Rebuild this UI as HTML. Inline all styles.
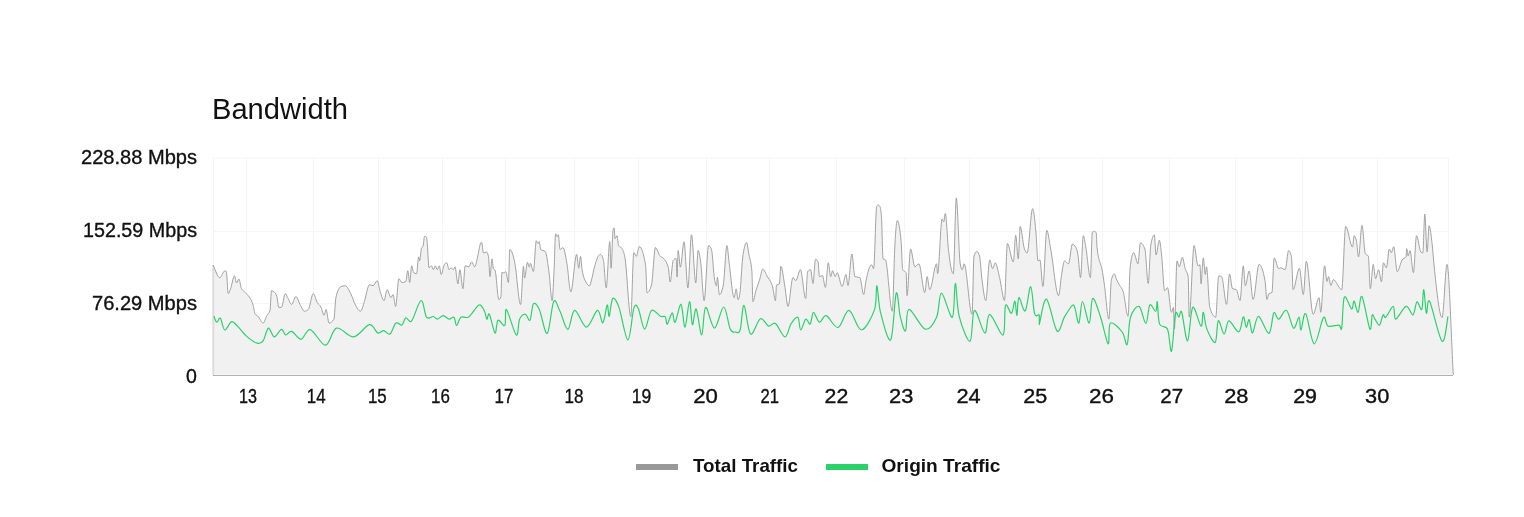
<!DOCTYPE html>
<html><head><meta charset="utf-8"><style>
html,body{margin:0;padding:0;background:#fff;width:1524px;height:517px;overflow:hidden}
svg{display:block;font-family:"Liberation Sans",sans-serif;will-change:transform}
</style></head><body>
<svg width="1524" height="517" viewBox="0 0 1524 517">
<text x="212" y="119" font-size="29" fill="#111" textLength="136" lengthAdjust="spacingAndGlyphs">Bandwidth</text>
<g font-size="19.6" fill="#111" stroke="#111" stroke-width="0.35" text-anchor="end">
<text x="197" y="164" textLength="116" lengthAdjust="spacingAndGlyphs">228.88 Mbps</text>
<text x="197" y="237" textLength="114" lengthAdjust="spacingAndGlyphs">152.59 Mbps</text>
<text x="197" y="310" textLength="105" lengthAdjust="spacingAndGlyphs">76.29 Mbps</text>
<text x="197" y="383">0</text>
</g>
<g stroke="#f5f5f5" stroke-width="1" fill="none"><line x1="246.5" y1="157.5" x2="246.5" y2="375" /><line x1="313.5" y1="157.5" x2="313.5" y2="375" /><line x1="378.5" y1="157.5" x2="378.5" y2="375" /><line x1="442.5" y1="157.5" x2="442.5" y2="375" /><line x1="505.5" y1="157.5" x2="505.5" y2="375" /><line x1="574.5" y1="157.5" x2="574.5" y2="375" /><line x1="638.5" y1="157.5" x2="638.5" y2="375" /><line x1="706.5" y1="157.5" x2="706.5" y2="375" /><line x1="769.5" y1="157.5" x2="769.5" y2="375" /><line x1="836.5" y1="157.5" x2="836.5" y2="375" /><line x1="904.5" y1="157.5" x2="904.5" y2="375" /><line x1="969.5" y1="157.5" x2="969.5" y2="375" /><line x1="1039.5" y1="157.5" x2="1039.5" y2="375" /><line x1="1102.5" y1="157.5" x2="1102.5" y2="375" /><line x1="1169.5" y1="157.5" x2="1169.5" y2="375" /><line x1="1235.5" y1="157.5" x2="1235.5" y2="375" /><line x1="1302.5" y1="157.5" x2="1302.5" y2="375" /><line x1="1377.5" y1="157.5" x2="1377.5" y2="375" /><line x1="213" y1="158.0" x2="1449" y2="158.0" /><line x1="213" y1="231.5" x2="1449" y2="231.5" /><line x1="213" y1="303.5" x2="1449" y2="303.5" /><line x1="213.5" y1="157.5" x2="213.5" y2="375" /><line x1="1448.5" y1="157.5" x2="1448.5" y2="375" /></g>
<path d="M213.0,265.0 C215.27,269.27 217.53,277.80 219.8,277.8 C221.43,277.80 223.07,271.00 224.7,271.0 C225.23,271.00 225.77,271.17 226.3,271.5 C226.93,271.90 227.57,293.60 228.2,293.6 C229.00,293.60 229.80,290.72 230.6,288.7 C231.90,285.42 233.20,275.80 234.5,275.8 C235.17,275.80 235.83,283.00 236.5,283.0 C237.30,283.00 238.10,279.00 238.9,279.0 C239.73,279.00 240.57,286.79 241.4,288.5 C242.73,291.23 244.07,290.95 245.4,292.6 C248.00,295.81 250.60,296.87 253.2,305.4 C253.87,307.59 254.53,313.38 255.2,314.3 C256.17,315.63 257.13,315.40 258.1,316.3 C259.77,317.86 261.43,323.10 263.1,323.1 C264.40,323.10 265.70,317.63 267.0,315.3 C268.00,313.51 269.00,313.67 270.0,310.4 C270.50,308.77 271.00,290.70 271.5,290.7 C272.30,290.70 273.10,291.03 273.9,291.7 C274.90,292.53 275.90,293.33 276.9,296.6 C277.53,298.67 278.17,307.40 278.8,307.4 C279.67,307.40 280.53,307.40 281.4,307.4 C282.70,307.40 284.00,293.60 285.3,293.6 C286.10,293.60 286.90,296.24 287.7,297.6 C289.00,299.80 290.30,304.40 291.6,304.4 C293.03,304.40 294.47,296.60 295.9,296.6 C297.43,296.60 298.97,302.80 300.5,305.4 C301.80,307.61 303.10,311.30 304.4,311.3 C305.70,311.30 307.00,310.67 308.3,309.4 C309.97,307.78 311.63,293.60 313.3,293.6 C314.60,293.60 315.90,300.20 317.2,302.5 C318.50,304.80 319.80,304.75 321.1,307.4 C322.10,309.43 323.10,315.30 324.1,315.3 C324.77,315.30 325.43,309.40 326.1,309.4 C327.07,309.40 328.03,323.10 329.0,323.1 C330.63,323.10 332.27,321.80 333.9,319.2 C334.57,318.14 335.23,300.57 335.9,297.6 C337.53,290.33 339.17,287.44 340.8,286.7 C342.27,286.03 343.73,285.70 345.2,285.7 C347.03,285.70 348.87,290.02 350.7,293.6 C352.33,296.79 353.97,302.45 355.6,305.4 C357.23,308.35 358.87,311.30 360.5,311.3 C361.80,311.30 363.10,305.24 364.4,301.5 C366.07,296.71 367.73,284.80 369.4,284.8 C370.70,284.80 372.00,285.70 373.3,285.7 C374.60,285.70 375.90,280.60 377.2,280.6 C378.20,280.60 379.20,288.63 380.2,291.7 C381.50,295.69 382.80,300.50 384.1,300.5 C385.10,300.50 386.10,289.70 387.1,289.7 C388.40,289.70 389.70,297.60 391.0,297.6 C391.67,297.60 392.33,294.60 393.0,294.6 C393.87,294.60 394.73,306.40 395.6,306.4 C396.70,306.40 397.80,278.70 398.9,278.7 C399.90,278.70 400.90,282.50 401.9,282.5 C403.20,282.50 404.50,282.17 405.8,281.5 C406.47,281.16 407.13,270.70 407.8,270.7 C408.43,270.70 409.07,282.50 409.7,282.5 C410.37,282.50 411.03,265.80 411.7,265.8 C412.37,265.80 413.03,272.24 413.7,272.7 C414.67,273.37 415.63,273.70 416.6,273.7 C417.27,273.70 417.93,256.90 418.6,256.9 C418.93,256.90 419.27,260.90 419.6,260.9 C420.23,260.90 420.87,249.68 421.5,248.1 C422.03,246.77 422.57,247.43 423.1,246.1 C423.57,244.93 424.03,236.30 424.5,236.3 C425.17,236.30 425.83,236.60 426.5,237.2 C426.80,237.47 427.10,241.88 427.4,245.1 C427.93,250.82 428.47,267.80 429.0,267.8 C429.80,267.80 430.60,265.80 431.4,265.8 C432.07,265.80 432.73,269.70 433.4,269.7 C434.03,269.70 434.67,265.80 435.3,265.8 C435.97,265.80 436.63,269.70 437.3,269.7 C437.97,269.70 438.63,265.80 439.3,265.8 C439.93,265.80 440.57,274.60 441.2,274.6 C442.20,274.60 443.20,266.40 444.2,264.8 C445.03,263.47 445.87,262.80 446.7,262.8 C447.50,262.80 448.30,269.70 449.1,269.7 C449.77,269.70 450.43,267.80 451.1,267.8 C451.87,267.80 452.63,269.70 453.4,269.7 C453.93,269.70 454.47,266.80 455.0,266.8 C455.97,266.80 456.93,283.80 457.9,283.8 C458.57,283.80 459.23,269.70 459.9,269.7 C460.90,269.70 461.90,288.70 462.9,288.7 C463.67,288.70 464.43,265.80 465.2,265.8 C466.40,265.80 467.60,266.80 468.8,266.8 C469.77,266.80 470.73,261.90 471.7,261.9 C472.70,261.90 473.70,266.80 474.7,266.8 C475.67,266.80 476.63,260.76 477.6,256.9 C478.60,252.90 479.60,244.90 480.6,243.1 C480.93,242.50 481.27,242.20 481.6,242.2 C482.23,242.20 482.87,253.00 483.5,253.0 C484.50,253.00 485.50,252.00 486.5,252.0 C487.17,252.00 487.83,253.63 488.5,256.9 C489.00,259.35 489.50,276.60 490.0,276.6 C490.67,276.60 491.33,258.90 492.0,258.9 C492.47,258.90 492.93,267.82 493.4,268.7 C493.93,269.70 494.47,269.20 495.0,270.2 C496.30,272.64 497.60,299.70 498.9,299.7 C499.57,299.70 500.23,298.73 500.9,296.8 C501.23,295.83 501.57,272.20 501.9,272.2 C502.57,272.20 503.23,273.10 503.9,273.1 C504.53,273.10 505.17,271.60 505.8,271.6 C506.67,271.60 507.53,282.60 508.4,282.6 C508.87,282.60 509.33,249.50 509.8,249.5 C511.43,249.50 513.07,254.66 514.7,262.3 C516.67,271.50 518.63,304.60 520.6,304.6 C521.57,304.60 522.53,266.30 523.5,266.3 C523.83,266.30 524.17,278.10 524.5,278.1 C525.50,278.10 526.50,262.30 527.5,262.3 C528.13,262.30 528.77,267.20 529.4,267.2 C529.73,267.20 530.07,263.30 530.4,263.3 C531.40,263.30 532.40,271.60 533.4,271.6 C534.37,271.60 535.33,240.70 536.3,240.7 C536.83,240.70 537.37,243.60 537.9,243.6 C538.37,243.60 538.83,241.70 539.3,241.7 C539.77,241.70 540.23,249.09 540.7,249.5 C542.20,250.83 543.70,250.17 545.2,251.5 C546.50,252.66 547.80,263.21 549.1,273.1 C550.10,280.71 551.10,300.70 552.1,300.7 C552.77,300.70 553.43,282.69 554.1,269.2 C554.60,259.08 555.10,233.80 555.6,233.8 C556.07,233.80 556.53,236.70 557.0,236.7 C557.47,236.70 557.93,234.80 558.4,234.8 C558.93,234.80 559.47,249.50 560.0,249.5 C560.97,249.50 561.93,247.60 562.9,247.6 C564.23,247.60 565.57,255.77 566.9,263.3 C568.20,270.65 569.50,291.90 570.8,291.9 C572.77,291.90 574.73,254.40 576.7,254.4 C577.37,254.40 578.03,268.20 578.7,268.2 C579.33,268.20 579.97,256.40 580.6,256.4 C581.07,256.40 581.53,266.34 582.0,269.2 C583.50,278.40 585.00,280.29 586.5,283.0 C587.50,284.81 588.50,285.90 589.5,285.9 C590.17,285.90 590.83,282.36 591.5,280.0 C592.47,276.57 593.43,270.75 594.4,267.2 C596.37,259.97 598.33,254.40 600.3,254.4 C601.30,254.40 602.30,256.07 603.3,259.4 C604.27,262.62 605.23,287.90 606.2,287.9 C607.40,287.90 608.60,241.70 609.8,241.7 C610.23,241.70 610.67,268.20 611.1,268.2 C611.77,268.20 612.43,232.33 613.1,229.8 C613.43,228.53 613.77,227.90 614.1,227.9 C614.43,227.90 614.77,238.70 615.1,238.7 C615.73,238.70 616.37,235.70 617.0,235.7 C617.53,235.70 618.07,244.69 618.6,245.6 C619.73,247.53 620.87,246.57 622.0,248.5 C622.97,250.15 623.93,252.22 624.9,257.4 C626.87,267.94 628.83,316.50 630.8,316.5 C631.80,316.50 632.80,252.50 633.8,252.5 C634.63,252.50 635.47,256.40 636.3,256.4 C637.30,256.40 638.30,246.60 639.3,246.6 C641.40,246.60 643.50,252.83 645.6,265.3 C646.07,268.07 646.53,292.80 647.0,292.8 C648.50,292.80 650.00,290.20 651.5,285.0 C652.80,280.49 654.10,247.60 655.4,247.6 C657.07,247.60 658.73,254.96 660.4,256.4 C661.03,256.95 661.67,256.89 662.3,257.4 C664.27,258.98 666.23,260.67 668.2,267.2 C668.87,269.41 669.53,282.00 670.2,282.0 C671.20,282.00 672.20,261.78 673.2,260.4 C674.17,259.07 675.13,258.40 676.1,258.4 C676.43,258.40 676.77,277.10 677.1,277.1 C677.43,277.10 677.77,250.50 678.1,250.5 C678.87,250.50 679.63,267.20 680.4,267.2 C681.60,267.20 682.80,241.70 684.0,241.7 C685.30,241.70 686.60,287.90 687.9,287.9 C689.10,287.90 690.30,234.80 691.5,234.8 C692.93,234.80 694.37,283.00 695.8,283.0 C696.57,283.00 697.33,250.50 698.1,250.5 C698.97,250.50 699.83,255.83 700.7,262.3 C701.83,270.76 702.97,300.70 704.1,300.7 C705.60,300.70 707.10,245.60 708.6,245.6 C709.57,245.60 710.53,246.90 711.5,249.5 C712.50,252.19 713.50,273.11 714.5,279.1 C715.17,283.09 715.83,285.90 716.5,285.9 C716.80,285.90 717.10,277.10 717.4,277.1 C718.07,277.10 718.73,294.80 719.4,294.8 C720.70,294.80 722.00,291.53 723.3,285.0 C724.50,278.97 725.70,245.60 726.9,245.6 C727.70,245.60 728.50,258.32 729.3,264.3 C730.93,276.51 732.57,297.80 734.2,297.8 C734.83,297.80 735.47,288.90 736.1,288.9 C736.77,288.90 737.43,299.70 738.1,299.7 C738.73,299.70 739.37,297.40 740.0,292.8 C740.87,286.51 741.73,265.25 742.6,258.4 C743.93,247.87 745.27,242.60 746.6,242.6 C747.37,242.60 748.13,250.31 748.9,254.4 C749.90,259.73 750.90,260.00 751.9,271.2 C752.23,274.93 752.57,301.70 752.9,301.7 C753.87,301.70 754.83,294.19 755.8,290.9 C757.13,286.37 758.47,283.39 759.8,279.1 C760.77,275.99 761.73,269.20 762.7,269.2 C764.33,269.20 765.97,274.19 767.6,277.1 C769.27,280.07 770.93,280.68 772.6,286.9 C773.57,290.51 774.53,300.70 775.5,300.7 C775.83,300.70 776.17,285.23 776.5,285.0 C777.47,284.33 778.43,284.67 779.4,284.0 C779.87,283.68 780.33,266.30 780.8,266.3 C782.20,266.30 783.60,279.30 785.0,287.4 C786.00,293.19 787.00,306.40 788.0,306.4 C789.63,306.40 791.27,277.60 792.9,277.6 C793.87,277.60 794.83,280.60 795.8,280.6 C797.33,280.60 798.87,269.70 800.4,269.7 C802.17,269.70 803.93,298.50 805.7,298.5 C806.33,298.50 806.97,272.54 807.6,271.7 C808.60,270.37 809.60,269.70 810.6,269.7 C811.40,269.70 812.20,283.50 813.0,283.5 C813.83,283.50 814.67,259.30 815.5,259.3 C816.37,259.30 817.23,260.17 818.1,261.9 C818.53,262.77 818.97,276.60 819.4,276.6 C820.40,276.60 821.40,275.60 822.4,275.6 C823.40,275.60 824.40,287.40 825.4,287.4 C826.37,287.40 827.33,262.80 828.3,262.8 C829.10,262.80 829.90,276.60 830.7,276.6 C831.33,276.60 831.97,270.70 832.6,270.7 C833.47,270.70 834.33,276.60 835.2,276.6 C835.87,276.60 836.53,272.70 837.2,272.7 C838.83,272.70 840.47,286.50 842.1,286.5 C843.40,286.50 844.70,274.60 846.0,274.6 C846.67,274.60 847.33,285.50 848.0,285.5 C849.30,285.50 850.60,254.00 851.9,254.0 C852.90,254.00 853.90,276.19 854.9,276.6 C856.53,277.27 858.17,276.93 859.8,277.6 C861.10,278.13 862.40,294.60 863.7,294.6 C864.37,294.60 865.03,286.02 865.7,282.5 C867.67,272.12 869.63,264.80 871.6,264.8 C872.27,264.80 872.93,268.70 873.6,268.7 C874.63,268.70 875.67,208.44 876.7,206.5 C877.23,205.50 877.77,205.00 878.3,205.0 C878.83,205.00 879.37,205.50 879.9,206.5 C880.43,207.50 880.97,210.20 881.5,217.6 C882.00,224.54 882.50,258.48 883.0,258.9 C883.80,259.57 884.60,259.23 885.4,259.9 C887.70,261.82 890.00,311.30 892.3,311.3 C893.13,311.30 893.97,262.29 894.8,247.1 C895.60,232.51 896.40,220.50 897.2,220.5 C898.50,220.50 899.80,227.40 901.1,241.2 C901.63,246.86 902.17,268.76 902.7,269.7 C903.83,271.70 904.97,270.70 906.1,272.7 C906.40,273.23 906.70,295.60 907.0,295.6 C908.20,295.60 909.40,249.10 910.6,249.1 C912.03,249.10 913.47,266.80 914.9,266.8 C916.23,266.80 917.57,263.80 918.9,263.8 C920.87,263.80 922.83,292.60 924.8,292.6 C925.57,292.60 926.33,276.60 927.1,276.6 C927.97,276.60 928.83,289.70 929.7,289.7 C932.00,289.70 934.30,263.80 936.6,263.8 C936.93,263.80 937.27,273.70 937.6,273.7 C939.10,273.70 940.60,219.00 942.1,219.0 C942.63,219.00 943.17,222.00 943.7,222.0 C944.23,222.00 944.77,213.50 945.3,213.5 C946.33,213.50 947.37,239.82 948.4,249.1 C950.03,263.77 951.67,273.70 953.3,273.7 C954.30,273.70 955.30,197.90 956.3,197.9 C957.60,197.90 958.90,256.13 960.2,263.8 C960.87,267.73 961.53,269.70 962.2,269.7 C962.83,269.70 963.47,263.80 964.1,263.8 C966.73,263.80 969.37,314.30 972.0,314.3 C972.67,314.30 973.33,258.07 974.0,256.0 C974.97,253.00 975.93,251.50 976.9,251.5 C977.77,251.50 978.63,253.00 979.5,256.0 C980.30,258.77 981.10,272.23 981.9,278.6 C983.20,288.96 984.50,300.50 985.8,300.5 C987.10,300.50 988.40,259.90 989.7,259.9 C990.70,259.90 991.70,268.70 992.7,268.7 C993.53,268.70 994.37,262.80 995.2,262.8 C996.67,262.80 998.13,271.76 999.6,277.6 C1001.23,284.11 1002.87,300.50 1004.5,300.5 C1005.47,300.50 1006.43,243.50 1007.4,243.5 C1009.37,243.50 1011.33,261.90 1013.3,261.9 C1014.10,261.90 1014.90,235.30 1015.7,235.3 C1016.57,235.30 1017.43,258.90 1018.3,258.9 C1018.93,258.90 1019.57,226.40 1020.2,226.4 C1021.53,226.40 1022.87,243.75 1024.2,248.1 C1025.17,251.25 1026.13,253.00 1027.1,253.0 C1028.93,253.00 1030.77,208.70 1032.6,208.7 C1033.73,208.70 1034.87,220.42 1036.0,233.3 C1036.67,240.88 1037.33,260.90 1038.0,260.9 C1038.63,260.90 1039.27,259.90 1039.9,259.9 C1040.90,259.90 1041.90,286.50 1042.9,286.5 C1044.20,286.50 1045.50,230.40 1046.8,230.4 C1048.10,230.40 1049.40,242.40 1050.7,249.1 C1053.33,262.68 1055.97,295.60 1058.6,295.6 C1059.60,295.60 1060.60,280.44 1061.6,274.6 C1062.57,268.95 1063.53,260.90 1064.5,260.9 C1065.83,260.90 1067.17,263.80 1068.5,263.8 C1069.80,263.80 1071.10,244.10 1072.4,244.1 C1073.27,244.10 1074.13,244.77 1075.0,246.1 C1076.00,247.64 1077.00,249.07 1078.0,255.0 C1078.83,259.94 1079.67,277.60 1080.5,277.6 C1081.43,277.60 1082.37,235.70 1083.3,235.7 C1084.13,235.70 1084.97,242.69 1085.8,247.1 C1087.33,255.21 1088.87,277.60 1090.4,277.6 C1091.03,277.60 1091.67,232.83 1092.3,232.3 C1093.10,231.63 1093.90,231.30 1094.7,231.3 C1095.23,231.30 1095.77,231.97 1096.3,233.3 C1096.53,233.88 1096.77,244.97 1097.0,247.1 C1098.87,264.17 1100.73,261.00 1102.6,272.7 C1103.23,276.67 1103.87,281.22 1104.5,285.7 C1105.97,296.08 1107.43,319.20 1108.9,319.2 C1109.73,319.20 1110.57,283.08 1111.4,279.8 C1112.40,275.87 1113.40,273.90 1114.4,273.9 C1115.03,273.90 1115.67,277.40 1116.3,278.9 C1117.30,281.27 1118.30,282.92 1119.3,284.8 C1120.60,287.25 1121.90,287.53 1123.2,291.7 C1124.83,296.94 1126.47,316.30 1128.1,316.3 C1128.77,316.30 1129.43,273.43 1130.1,267.8 C1131.30,257.67 1132.50,252.60 1133.7,252.6 C1135.13,252.60 1136.57,263.80 1138.0,263.8 C1138.80,263.80 1139.60,242.80 1140.4,242.8 C1141.90,242.80 1143.40,244.90 1144.9,249.1 C1146.00,252.18 1147.10,283.50 1148.2,283.5 C1149.07,283.50 1149.93,250.15 1150.8,245.1 C1151.97,238.30 1153.13,234.90 1154.3,234.9 C1154.90,234.90 1155.50,255.00 1156.1,255.0 C1157.17,255.00 1158.23,240.20 1159.3,240.2 C1160.07,240.20 1160.83,248.25 1161.6,255.0 C1162.60,263.81 1163.60,290.70 1164.6,290.7 C1165.57,290.70 1166.53,287.70 1167.5,287.7 C1168.83,287.70 1170.17,312.30 1171.5,312.3 C1172.13,312.30 1172.77,307.40 1173.4,307.4 C1173.73,307.40 1174.07,329.00 1174.4,329.0 C1175.27,329.00 1176.13,260.90 1177.0,260.9 C1177.77,260.90 1178.53,266.80 1179.3,266.8 C1180.30,266.80 1181.30,257.30 1182.3,257.3 C1183.27,257.30 1184.23,265.45 1185.2,268.7 C1186.20,272.06 1187.20,271.47 1188.2,277.0 C1188.53,278.84 1188.87,317.20 1189.2,317.2 C1190.83,317.20 1192.47,245.50 1194.1,245.5 C1195.40,245.50 1196.70,265.80 1198.0,265.8 C1198.67,265.80 1199.33,264.80 1200.0,264.8 C1200.33,264.80 1200.67,283.80 1201.0,283.8 C1201.77,283.80 1202.53,257.90 1203.3,257.9 C1203.97,257.90 1204.63,274.60 1205.3,274.6 C1205.70,274.60 1206.10,266.80 1206.5,266.8 C1207.60,266.80 1208.70,303.75 1209.8,307.4 C1211.77,313.93 1213.73,317.20 1215.7,317.2 C1216.70,317.20 1217.70,275.90 1218.7,275.9 C1219.70,275.90 1220.70,276.23 1221.7,276.9 C1223.33,277.99 1224.97,304.40 1226.6,304.4 C1227.57,304.40 1228.53,273.90 1229.5,273.9 C1230.50,273.90 1231.50,288.19 1232.5,288.7 C1233.80,289.37 1235.10,289.03 1236.4,289.7 C1237.60,290.32 1238.80,300.50 1240.0,300.5 C1241.10,300.50 1242.20,265.80 1243.3,265.8 C1243.97,265.80 1244.63,285.70 1245.3,285.7 C1246.60,285.70 1247.90,271.00 1249.2,271.0 C1250.50,271.00 1251.80,299.50 1253.1,299.5 C1255.10,299.50 1257.10,264.40 1259.1,264.4 C1261.07,264.40 1263.03,269.80 1265.0,280.6 C1265.63,284.08 1266.27,299.50 1266.9,299.5 C1267.57,299.50 1268.23,294.04 1268.9,293.6 C1269.90,292.93 1270.90,293.27 1271.9,292.6 C1272.67,292.09 1273.43,257.90 1274.2,257.9 C1275.70,257.90 1277.20,268.70 1278.7,268.7 C1279.37,268.70 1280.03,267.80 1280.7,267.8 C1282.20,267.80 1283.70,269.70 1285.2,269.7 C1286.33,269.70 1287.47,250.60 1288.6,250.6 C1289.57,250.60 1290.53,252.70 1291.5,256.9 C1292.03,259.22 1292.57,289.70 1293.1,289.7 C1295.20,289.70 1297.30,268.30 1299.4,268.3 C1300.70,268.30 1302.00,294.60 1303.3,294.6 C1304.30,294.60 1305.30,261.30 1306.3,261.3 C1308.60,261.30 1310.90,314.30 1313.2,314.3 C1315.17,314.30 1317.13,297.60 1319.1,297.6 C1319.63,297.60 1320.17,312.30 1320.7,312.3 C1322.00,312.30 1323.30,265.80 1324.6,265.8 C1325.40,265.80 1326.20,281.50 1327.0,281.5 C1327.50,281.50 1328.00,276.60 1328.5,276.6 C1329.30,276.60 1330.10,285.50 1330.9,285.5 C1331.70,285.50 1332.50,279.60 1333.3,279.6 C1336.10,279.60 1338.90,289.70 1341.7,289.7 C1343.03,289.70 1344.37,226.40 1345.7,226.4 C1348.00,226.40 1350.30,247.10 1352.6,247.1 C1353.10,247.10 1353.60,235.70 1354.1,235.7 C1354.90,235.70 1355.70,237.53 1356.5,241.2 C1357.17,244.26 1357.83,256.90 1358.5,256.9 C1359.67,256.90 1360.83,225.40 1362.0,225.4 C1363.13,225.40 1364.27,252.51 1365.4,254.0 C1366.37,255.27 1367.33,254.63 1368.3,255.9 C1368.97,256.77 1369.63,288.70 1370.3,288.7 C1371.27,288.70 1372.23,264.40 1373.2,264.4 C1374.00,264.40 1374.80,278.60 1375.6,278.6 C1376.57,278.60 1377.53,269.70 1378.5,269.7 C1379.50,269.70 1380.50,281.80 1381.5,281.8 C1382.13,281.80 1382.77,262.80 1383.4,262.8 C1384.40,262.80 1385.40,267.80 1386.4,267.8 C1387.37,267.80 1388.33,249.10 1389.3,249.1 C1389.97,249.10 1390.63,252.60 1391.3,252.6 C1392.10,252.60 1392.90,246.70 1393.7,246.7 C1394.87,246.70 1396.03,271.70 1397.2,271.7 C1398.83,271.70 1400.47,262.43 1402.1,259.9 C1403.43,257.83 1404.77,258.77 1406.1,256.5 C1406.30,256.16 1406.50,248.70 1406.7,248.7 C1407.17,248.70 1407.63,255.90 1408.1,255.9 C1408.73,255.90 1409.37,250.60 1410.0,250.6 C1411.13,250.60 1412.27,272.70 1413.4,272.7 C1414.43,272.70 1415.47,235.70 1416.5,235.7 C1417.97,235.70 1419.43,250.46 1420.9,252.0 C1421.53,252.67 1422.17,253.00 1422.8,253.0 C1423.47,253.00 1424.13,214.00 1424.8,214.0 C1425.57,214.00 1426.33,252.00 1427.1,252.0 C1427.77,252.00 1428.43,225.80 1429.1,225.8 C1429.97,225.80 1430.83,233.36 1431.7,240.2 C1432.67,247.83 1433.63,261.68 1434.6,270.7 C1437.10,294.02 1439.60,317.60 1442.1,317.6 C1443.73,317.60 1445.37,264.40 1447.0,264.4 C1449.10,264.40 1451.20,338.13 1453.3,375.0 L1453.3,375 L213,375 Z" fill="#f1f1f1" stroke="none"/>
<line x1="213.3" y1="265" x2="213.3" y2="375" stroke="#dcdcdc" stroke-width="2"/>
<path d="M213.0,265.0 C215.27,269.27 217.53,277.80 219.8,277.8 C221.43,277.80 223.07,271.00 224.7,271.0 C225.23,271.00 225.77,271.17 226.3,271.5 C226.93,271.90 227.57,293.60 228.2,293.6 C229.00,293.60 229.80,290.72 230.6,288.7 C231.90,285.42 233.20,275.80 234.5,275.8 C235.17,275.80 235.83,283.00 236.5,283.0 C237.30,283.00 238.10,279.00 238.9,279.0 C239.73,279.00 240.57,286.79 241.4,288.5 C242.73,291.23 244.07,290.95 245.4,292.6 C248.00,295.81 250.60,296.87 253.2,305.4 C253.87,307.59 254.53,313.38 255.2,314.3 C256.17,315.63 257.13,315.40 258.1,316.3 C259.77,317.86 261.43,323.10 263.1,323.1 C264.40,323.10 265.70,317.63 267.0,315.3 C268.00,313.51 269.00,313.67 270.0,310.4 C270.50,308.77 271.00,290.70 271.5,290.7 C272.30,290.70 273.10,291.03 273.9,291.7 C274.90,292.53 275.90,293.33 276.9,296.6 C277.53,298.67 278.17,307.40 278.8,307.4 C279.67,307.40 280.53,307.40 281.4,307.4 C282.70,307.40 284.00,293.60 285.3,293.6 C286.10,293.60 286.90,296.24 287.7,297.6 C289.00,299.80 290.30,304.40 291.6,304.4 C293.03,304.40 294.47,296.60 295.9,296.6 C297.43,296.60 298.97,302.80 300.5,305.4 C301.80,307.61 303.10,311.30 304.4,311.3 C305.70,311.30 307.00,310.67 308.3,309.4 C309.97,307.78 311.63,293.60 313.3,293.6 C314.60,293.60 315.90,300.20 317.2,302.5 C318.50,304.80 319.80,304.75 321.1,307.4 C322.10,309.43 323.10,315.30 324.1,315.3 C324.77,315.30 325.43,309.40 326.1,309.4 C327.07,309.40 328.03,323.10 329.0,323.1 C330.63,323.10 332.27,321.80 333.9,319.2 C334.57,318.14 335.23,300.57 335.9,297.6 C337.53,290.33 339.17,287.44 340.8,286.7 C342.27,286.03 343.73,285.70 345.2,285.7 C347.03,285.70 348.87,290.02 350.7,293.6 C352.33,296.79 353.97,302.45 355.6,305.4 C357.23,308.35 358.87,311.30 360.5,311.3 C361.80,311.30 363.10,305.24 364.4,301.5 C366.07,296.71 367.73,284.80 369.4,284.8 C370.70,284.80 372.00,285.70 373.3,285.7 C374.60,285.70 375.90,280.60 377.2,280.6 C378.20,280.60 379.20,288.63 380.2,291.7 C381.50,295.69 382.80,300.50 384.1,300.5 C385.10,300.50 386.10,289.70 387.1,289.7 C388.40,289.70 389.70,297.60 391.0,297.6 C391.67,297.60 392.33,294.60 393.0,294.6 C393.87,294.60 394.73,306.40 395.6,306.4 C396.70,306.40 397.80,278.70 398.9,278.7 C399.90,278.70 400.90,282.50 401.9,282.5 C403.20,282.50 404.50,282.17 405.8,281.5 C406.47,281.16 407.13,270.70 407.8,270.7 C408.43,270.70 409.07,282.50 409.7,282.5 C410.37,282.50 411.03,265.80 411.7,265.8 C412.37,265.80 413.03,272.24 413.7,272.7 C414.67,273.37 415.63,273.70 416.6,273.7 C417.27,273.70 417.93,256.90 418.6,256.9 C418.93,256.90 419.27,260.90 419.6,260.9 C420.23,260.90 420.87,249.68 421.5,248.1 C422.03,246.77 422.57,247.43 423.1,246.1 C423.57,244.93 424.03,236.30 424.5,236.3 C425.17,236.30 425.83,236.60 426.5,237.2 C426.80,237.47 427.10,241.88 427.4,245.1 C427.93,250.82 428.47,267.80 429.0,267.8 C429.80,267.80 430.60,265.80 431.4,265.8 C432.07,265.80 432.73,269.70 433.4,269.7 C434.03,269.70 434.67,265.80 435.3,265.8 C435.97,265.80 436.63,269.70 437.3,269.7 C437.97,269.70 438.63,265.80 439.3,265.8 C439.93,265.80 440.57,274.60 441.2,274.6 C442.20,274.60 443.20,266.40 444.2,264.8 C445.03,263.47 445.87,262.80 446.7,262.8 C447.50,262.80 448.30,269.70 449.1,269.7 C449.77,269.70 450.43,267.80 451.1,267.8 C451.87,267.80 452.63,269.70 453.4,269.7 C453.93,269.70 454.47,266.80 455.0,266.8 C455.97,266.80 456.93,283.80 457.9,283.8 C458.57,283.80 459.23,269.70 459.9,269.7 C460.90,269.70 461.90,288.70 462.9,288.7 C463.67,288.70 464.43,265.80 465.2,265.8 C466.40,265.80 467.60,266.80 468.8,266.8 C469.77,266.80 470.73,261.90 471.7,261.9 C472.70,261.90 473.70,266.80 474.7,266.8 C475.67,266.80 476.63,260.76 477.6,256.9 C478.60,252.90 479.60,244.90 480.6,243.1 C480.93,242.50 481.27,242.20 481.6,242.2 C482.23,242.20 482.87,253.00 483.5,253.0 C484.50,253.00 485.50,252.00 486.5,252.0 C487.17,252.00 487.83,253.63 488.5,256.9 C489.00,259.35 489.50,276.60 490.0,276.6 C490.67,276.60 491.33,258.90 492.0,258.9 C492.47,258.90 492.93,267.82 493.4,268.7 C493.93,269.70 494.47,269.20 495.0,270.2 C496.30,272.64 497.60,299.70 498.9,299.7 C499.57,299.70 500.23,298.73 500.9,296.8 C501.23,295.83 501.57,272.20 501.9,272.2 C502.57,272.20 503.23,273.10 503.9,273.1 C504.53,273.10 505.17,271.60 505.8,271.6 C506.67,271.60 507.53,282.60 508.4,282.6 C508.87,282.60 509.33,249.50 509.8,249.5 C511.43,249.50 513.07,254.66 514.7,262.3 C516.67,271.50 518.63,304.60 520.6,304.6 C521.57,304.60 522.53,266.30 523.5,266.3 C523.83,266.30 524.17,278.10 524.5,278.1 C525.50,278.10 526.50,262.30 527.5,262.3 C528.13,262.30 528.77,267.20 529.4,267.2 C529.73,267.20 530.07,263.30 530.4,263.3 C531.40,263.30 532.40,271.60 533.4,271.6 C534.37,271.60 535.33,240.70 536.3,240.7 C536.83,240.70 537.37,243.60 537.9,243.6 C538.37,243.60 538.83,241.70 539.3,241.7 C539.77,241.70 540.23,249.09 540.7,249.5 C542.20,250.83 543.70,250.17 545.2,251.5 C546.50,252.66 547.80,263.21 549.1,273.1 C550.10,280.71 551.10,300.70 552.1,300.7 C552.77,300.70 553.43,282.69 554.1,269.2 C554.60,259.08 555.10,233.80 555.6,233.8 C556.07,233.80 556.53,236.70 557.0,236.7 C557.47,236.70 557.93,234.80 558.4,234.8 C558.93,234.80 559.47,249.50 560.0,249.5 C560.97,249.50 561.93,247.60 562.9,247.6 C564.23,247.60 565.57,255.77 566.9,263.3 C568.20,270.65 569.50,291.90 570.8,291.9 C572.77,291.90 574.73,254.40 576.7,254.4 C577.37,254.40 578.03,268.20 578.7,268.2 C579.33,268.20 579.97,256.40 580.6,256.4 C581.07,256.40 581.53,266.34 582.0,269.2 C583.50,278.40 585.00,280.29 586.5,283.0 C587.50,284.81 588.50,285.90 589.5,285.9 C590.17,285.90 590.83,282.36 591.5,280.0 C592.47,276.57 593.43,270.75 594.4,267.2 C596.37,259.97 598.33,254.40 600.3,254.4 C601.30,254.40 602.30,256.07 603.3,259.4 C604.27,262.62 605.23,287.90 606.2,287.9 C607.40,287.90 608.60,241.70 609.8,241.7 C610.23,241.70 610.67,268.20 611.1,268.2 C611.77,268.20 612.43,232.33 613.1,229.8 C613.43,228.53 613.77,227.90 614.1,227.9 C614.43,227.90 614.77,238.70 615.1,238.7 C615.73,238.70 616.37,235.70 617.0,235.7 C617.53,235.70 618.07,244.69 618.6,245.6 C619.73,247.53 620.87,246.57 622.0,248.5 C622.97,250.15 623.93,252.22 624.9,257.4 C626.87,267.94 628.83,316.50 630.8,316.5 C631.80,316.50 632.80,252.50 633.8,252.5 C634.63,252.50 635.47,256.40 636.3,256.4 C637.30,256.40 638.30,246.60 639.3,246.6 C641.40,246.60 643.50,252.83 645.6,265.3 C646.07,268.07 646.53,292.80 647.0,292.8 C648.50,292.80 650.00,290.20 651.5,285.0 C652.80,280.49 654.10,247.60 655.4,247.6 C657.07,247.60 658.73,254.96 660.4,256.4 C661.03,256.95 661.67,256.89 662.3,257.4 C664.27,258.98 666.23,260.67 668.2,267.2 C668.87,269.41 669.53,282.00 670.2,282.0 C671.20,282.00 672.20,261.78 673.2,260.4 C674.17,259.07 675.13,258.40 676.1,258.4 C676.43,258.40 676.77,277.10 677.1,277.1 C677.43,277.10 677.77,250.50 678.1,250.5 C678.87,250.50 679.63,267.20 680.4,267.2 C681.60,267.20 682.80,241.70 684.0,241.7 C685.30,241.70 686.60,287.90 687.9,287.9 C689.10,287.90 690.30,234.80 691.5,234.8 C692.93,234.80 694.37,283.00 695.8,283.0 C696.57,283.00 697.33,250.50 698.1,250.5 C698.97,250.50 699.83,255.83 700.7,262.3 C701.83,270.76 702.97,300.70 704.1,300.7 C705.60,300.70 707.10,245.60 708.6,245.6 C709.57,245.60 710.53,246.90 711.5,249.5 C712.50,252.19 713.50,273.11 714.5,279.1 C715.17,283.09 715.83,285.90 716.5,285.9 C716.80,285.90 717.10,277.10 717.4,277.1 C718.07,277.10 718.73,294.80 719.4,294.8 C720.70,294.80 722.00,291.53 723.3,285.0 C724.50,278.97 725.70,245.60 726.9,245.6 C727.70,245.60 728.50,258.32 729.3,264.3 C730.93,276.51 732.57,297.80 734.2,297.8 C734.83,297.80 735.47,288.90 736.1,288.9 C736.77,288.90 737.43,299.70 738.1,299.7 C738.73,299.70 739.37,297.40 740.0,292.8 C740.87,286.51 741.73,265.25 742.6,258.4 C743.93,247.87 745.27,242.60 746.6,242.6 C747.37,242.60 748.13,250.31 748.9,254.4 C749.90,259.73 750.90,260.00 751.9,271.2 C752.23,274.93 752.57,301.70 752.9,301.7 C753.87,301.70 754.83,294.19 755.8,290.9 C757.13,286.37 758.47,283.39 759.8,279.1 C760.77,275.99 761.73,269.20 762.7,269.2 C764.33,269.20 765.97,274.19 767.6,277.1 C769.27,280.07 770.93,280.68 772.6,286.9 C773.57,290.51 774.53,300.70 775.5,300.7 C775.83,300.70 776.17,285.23 776.5,285.0 C777.47,284.33 778.43,284.67 779.4,284.0 C779.87,283.68 780.33,266.30 780.8,266.3 C782.20,266.30 783.60,279.30 785.0,287.4 C786.00,293.19 787.00,306.40 788.0,306.4 C789.63,306.40 791.27,277.60 792.9,277.6 C793.87,277.60 794.83,280.60 795.8,280.6 C797.33,280.60 798.87,269.70 800.4,269.7 C802.17,269.70 803.93,298.50 805.7,298.5 C806.33,298.50 806.97,272.54 807.6,271.7 C808.60,270.37 809.60,269.70 810.6,269.7 C811.40,269.70 812.20,283.50 813.0,283.5 C813.83,283.50 814.67,259.30 815.5,259.3 C816.37,259.30 817.23,260.17 818.1,261.9 C818.53,262.77 818.97,276.60 819.4,276.6 C820.40,276.60 821.40,275.60 822.4,275.6 C823.40,275.60 824.40,287.40 825.4,287.4 C826.37,287.40 827.33,262.80 828.3,262.8 C829.10,262.80 829.90,276.60 830.7,276.6 C831.33,276.60 831.97,270.70 832.6,270.7 C833.47,270.70 834.33,276.60 835.2,276.6 C835.87,276.60 836.53,272.70 837.2,272.7 C838.83,272.70 840.47,286.50 842.1,286.5 C843.40,286.50 844.70,274.60 846.0,274.6 C846.67,274.60 847.33,285.50 848.0,285.5 C849.30,285.50 850.60,254.00 851.9,254.0 C852.90,254.00 853.90,276.19 854.9,276.6 C856.53,277.27 858.17,276.93 859.8,277.6 C861.10,278.13 862.40,294.60 863.7,294.6 C864.37,294.60 865.03,286.02 865.7,282.5 C867.67,272.12 869.63,264.80 871.6,264.8 C872.27,264.80 872.93,268.70 873.6,268.7 C874.63,268.70 875.67,208.44 876.7,206.5 C877.23,205.50 877.77,205.00 878.3,205.0 C878.83,205.00 879.37,205.50 879.9,206.5 C880.43,207.50 880.97,210.20 881.5,217.6 C882.00,224.54 882.50,258.48 883.0,258.9 C883.80,259.57 884.60,259.23 885.4,259.9 C887.70,261.82 890.00,311.30 892.3,311.3 C893.13,311.30 893.97,262.29 894.8,247.1 C895.60,232.51 896.40,220.50 897.2,220.5 C898.50,220.50 899.80,227.40 901.1,241.2 C901.63,246.86 902.17,268.76 902.7,269.7 C903.83,271.70 904.97,270.70 906.1,272.7 C906.40,273.23 906.70,295.60 907.0,295.6 C908.20,295.60 909.40,249.10 910.6,249.1 C912.03,249.10 913.47,266.80 914.9,266.8 C916.23,266.80 917.57,263.80 918.9,263.8 C920.87,263.80 922.83,292.60 924.8,292.6 C925.57,292.60 926.33,276.60 927.1,276.6 C927.97,276.60 928.83,289.70 929.7,289.7 C932.00,289.70 934.30,263.80 936.6,263.8 C936.93,263.80 937.27,273.70 937.6,273.7 C939.10,273.70 940.60,219.00 942.1,219.0 C942.63,219.00 943.17,222.00 943.7,222.0 C944.23,222.00 944.77,213.50 945.3,213.5 C946.33,213.50 947.37,239.82 948.4,249.1 C950.03,263.77 951.67,273.70 953.3,273.7 C954.30,273.70 955.30,197.90 956.3,197.9 C957.60,197.90 958.90,256.13 960.2,263.8 C960.87,267.73 961.53,269.70 962.2,269.7 C962.83,269.70 963.47,263.80 964.1,263.8 C966.73,263.80 969.37,314.30 972.0,314.3 C972.67,314.30 973.33,258.07 974.0,256.0 C974.97,253.00 975.93,251.50 976.9,251.5 C977.77,251.50 978.63,253.00 979.5,256.0 C980.30,258.77 981.10,272.23 981.9,278.6 C983.20,288.96 984.50,300.50 985.8,300.5 C987.10,300.50 988.40,259.90 989.7,259.9 C990.70,259.90 991.70,268.70 992.7,268.7 C993.53,268.70 994.37,262.80 995.2,262.8 C996.67,262.80 998.13,271.76 999.6,277.6 C1001.23,284.11 1002.87,300.50 1004.5,300.5 C1005.47,300.50 1006.43,243.50 1007.4,243.5 C1009.37,243.50 1011.33,261.90 1013.3,261.9 C1014.10,261.90 1014.90,235.30 1015.7,235.3 C1016.57,235.30 1017.43,258.90 1018.3,258.9 C1018.93,258.90 1019.57,226.40 1020.2,226.4 C1021.53,226.40 1022.87,243.75 1024.2,248.1 C1025.17,251.25 1026.13,253.00 1027.1,253.0 C1028.93,253.00 1030.77,208.70 1032.6,208.7 C1033.73,208.70 1034.87,220.42 1036.0,233.3 C1036.67,240.88 1037.33,260.90 1038.0,260.9 C1038.63,260.90 1039.27,259.90 1039.9,259.9 C1040.90,259.90 1041.90,286.50 1042.9,286.5 C1044.20,286.50 1045.50,230.40 1046.8,230.4 C1048.10,230.40 1049.40,242.40 1050.7,249.1 C1053.33,262.68 1055.97,295.60 1058.6,295.6 C1059.60,295.60 1060.60,280.44 1061.6,274.6 C1062.57,268.95 1063.53,260.90 1064.5,260.9 C1065.83,260.90 1067.17,263.80 1068.5,263.8 C1069.80,263.80 1071.10,244.10 1072.4,244.1 C1073.27,244.10 1074.13,244.77 1075.0,246.1 C1076.00,247.64 1077.00,249.07 1078.0,255.0 C1078.83,259.94 1079.67,277.60 1080.5,277.6 C1081.43,277.60 1082.37,235.70 1083.3,235.7 C1084.13,235.70 1084.97,242.69 1085.8,247.1 C1087.33,255.21 1088.87,277.60 1090.4,277.6 C1091.03,277.60 1091.67,232.83 1092.3,232.3 C1093.10,231.63 1093.90,231.30 1094.7,231.3 C1095.23,231.30 1095.77,231.97 1096.3,233.3 C1096.53,233.88 1096.77,244.97 1097.0,247.1 C1098.87,264.17 1100.73,261.00 1102.6,272.7 C1103.23,276.67 1103.87,281.22 1104.5,285.7 C1105.97,296.08 1107.43,319.20 1108.9,319.2 C1109.73,319.20 1110.57,283.08 1111.4,279.8 C1112.40,275.87 1113.40,273.90 1114.4,273.9 C1115.03,273.90 1115.67,277.40 1116.3,278.9 C1117.30,281.27 1118.30,282.92 1119.3,284.8 C1120.60,287.25 1121.90,287.53 1123.2,291.7 C1124.83,296.94 1126.47,316.30 1128.1,316.3 C1128.77,316.30 1129.43,273.43 1130.1,267.8 C1131.30,257.67 1132.50,252.60 1133.7,252.6 C1135.13,252.60 1136.57,263.80 1138.0,263.8 C1138.80,263.80 1139.60,242.80 1140.4,242.8 C1141.90,242.80 1143.40,244.90 1144.9,249.1 C1146.00,252.18 1147.10,283.50 1148.2,283.5 C1149.07,283.50 1149.93,250.15 1150.8,245.1 C1151.97,238.30 1153.13,234.90 1154.3,234.9 C1154.90,234.90 1155.50,255.00 1156.1,255.0 C1157.17,255.00 1158.23,240.20 1159.3,240.2 C1160.07,240.20 1160.83,248.25 1161.6,255.0 C1162.60,263.81 1163.60,290.70 1164.6,290.7 C1165.57,290.70 1166.53,287.70 1167.5,287.7 C1168.83,287.70 1170.17,312.30 1171.5,312.3 C1172.13,312.30 1172.77,307.40 1173.4,307.4 C1173.73,307.40 1174.07,329.00 1174.4,329.0 C1175.27,329.00 1176.13,260.90 1177.0,260.9 C1177.77,260.90 1178.53,266.80 1179.3,266.8 C1180.30,266.80 1181.30,257.30 1182.3,257.3 C1183.27,257.30 1184.23,265.45 1185.2,268.7 C1186.20,272.06 1187.20,271.47 1188.2,277.0 C1188.53,278.84 1188.87,317.20 1189.2,317.2 C1190.83,317.20 1192.47,245.50 1194.1,245.5 C1195.40,245.50 1196.70,265.80 1198.0,265.8 C1198.67,265.80 1199.33,264.80 1200.0,264.8 C1200.33,264.80 1200.67,283.80 1201.0,283.8 C1201.77,283.80 1202.53,257.90 1203.3,257.9 C1203.97,257.90 1204.63,274.60 1205.3,274.6 C1205.70,274.60 1206.10,266.80 1206.5,266.8 C1207.60,266.80 1208.70,303.75 1209.8,307.4 C1211.77,313.93 1213.73,317.20 1215.7,317.2 C1216.70,317.20 1217.70,275.90 1218.7,275.9 C1219.70,275.90 1220.70,276.23 1221.7,276.9 C1223.33,277.99 1224.97,304.40 1226.6,304.4 C1227.57,304.40 1228.53,273.90 1229.5,273.9 C1230.50,273.90 1231.50,288.19 1232.5,288.7 C1233.80,289.37 1235.10,289.03 1236.4,289.7 C1237.60,290.32 1238.80,300.50 1240.0,300.5 C1241.10,300.50 1242.20,265.80 1243.3,265.8 C1243.97,265.80 1244.63,285.70 1245.3,285.7 C1246.60,285.70 1247.90,271.00 1249.2,271.0 C1250.50,271.00 1251.80,299.50 1253.1,299.5 C1255.10,299.50 1257.10,264.40 1259.1,264.4 C1261.07,264.40 1263.03,269.80 1265.0,280.6 C1265.63,284.08 1266.27,299.50 1266.9,299.5 C1267.57,299.50 1268.23,294.04 1268.9,293.6 C1269.90,292.93 1270.90,293.27 1271.9,292.6 C1272.67,292.09 1273.43,257.90 1274.2,257.9 C1275.70,257.90 1277.20,268.70 1278.7,268.7 C1279.37,268.70 1280.03,267.80 1280.7,267.8 C1282.20,267.80 1283.70,269.70 1285.2,269.7 C1286.33,269.70 1287.47,250.60 1288.6,250.6 C1289.57,250.60 1290.53,252.70 1291.5,256.9 C1292.03,259.22 1292.57,289.70 1293.1,289.7 C1295.20,289.70 1297.30,268.30 1299.4,268.3 C1300.70,268.30 1302.00,294.60 1303.3,294.6 C1304.30,294.60 1305.30,261.30 1306.3,261.3 C1308.60,261.30 1310.90,314.30 1313.2,314.3 C1315.17,314.30 1317.13,297.60 1319.1,297.6 C1319.63,297.60 1320.17,312.30 1320.7,312.3 C1322.00,312.30 1323.30,265.80 1324.6,265.8 C1325.40,265.80 1326.20,281.50 1327.0,281.5 C1327.50,281.50 1328.00,276.60 1328.5,276.6 C1329.30,276.60 1330.10,285.50 1330.9,285.5 C1331.70,285.50 1332.50,279.60 1333.3,279.6 C1336.10,279.60 1338.90,289.70 1341.7,289.7 C1343.03,289.70 1344.37,226.40 1345.7,226.4 C1348.00,226.40 1350.30,247.10 1352.6,247.1 C1353.10,247.10 1353.60,235.70 1354.1,235.7 C1354.90,235.70 1355.70,237.53 1356.5,241.2 C1357.17,244.26 1357.83,256.90 1358.5,256.9 C1359.67,256.90 1360.83,225.40 1362.0,225.4 C1363.13,225.40 1364.27,252.51 1365.4,254.0 C1366.37,255.27 1367.33,254.63 1368.3,255.9 C1368.97,256.77 1369.63,288.70 1370.3,288.7 C1371.27,288.70 1372.23,264.40 1373.2,264.4 C1374.00,264.40 1374.80,278.60 1375.6,278.6 C1376.57,278.60 1377.53,269.70 1378.5,269.7 C1379.50,269.70 1380.50,281.80 1381.5,281.8 C1382.13,281.80 1382.77,262.80 1383.4,262.8 C1384.40,262.80 1385.40,267.80 1386.4,267.8 C1387.37,267.80 1388.33,249.10 1389.3,249.1 C1389.97,249.10 1390.63,252.60 1391.3,252.6 C1392.10,252.60 1392.90,246.70 1393.7,246.7 C1394.87,246.70 1396.03,271.70 1397.2,271.7 C1398.83,271.70 1400.47,262.43 1402.1,259.9 C1403.43,257.83 1404.77,258.77 1406.1,256.5 C1406.30,256.16 1406.50,248.70 1406.7,248.7 C1407.17,248.70 1407.63,255.90 1408.1,255.9 C1408.73,255.90 1409.37,250.60 1410.0,250.6 C1411.13,250.60 1412.27,272.70 1413.4,272.7 C1414.43,272.70 1415.47,235.70 1416.5,235.7 C1417.97,235.70 1419.43,250.46 1420.9,252.0 C1421.53,252.67 1422.17,253.00 1422.8,253.0 C1423.47,253.00 1424.13,214.00 1424.8,214.0 C1425.57,214.00 1426.33,252.00 1427.1,252.0 C1427.77,252.00 1428.43,225.80 1429.1,225.8 C1429.97,225.80 1430.83,233.36 1431.7,240.2 C1432.67,247.83 1433.63,261.68 1434.6,270.7 C1437.10,294.02 1439.60,317.60 1442.1,317.6 C1443.73,317.60 1445.37,264.40 1447.0,264.4 C1449.10,264.40 1451.20,338.13 1453.3,375.0" fill="none" stroke="#999" stroke-width="0.9"/>
<path d="M213.9,316.3 C214.4,317.3 215.7,321.9 216.8,322.2 C217.9,322.5 219.1,316.9 220.4,318.2 C221.7,319.5 222.8,329.4 224.7,330.0 C226.6,330.6 229.5,322.2 231.6,321.6 C233.7,321.0 234.9,323.6 237.5,326.1 C240.1,328.7 244.0,334.0 247.3,336.9 C250.6,339.8 254.6,342.5 257.2,343.2 C259.8,343.9 261.2,343.4 263.1,340.9 C265.0,338.4 266.5,328.8 268.4,328.1 C270.3,327.4 272.1,336.7 274.3,336.9 C276.5,337.1 279.5,329.7 281.4,329.4 C283.3,329.1 284.0,334.7 285.7,335.0 C287.4,335.3 289.0,330.7 291.6,331.4 C294.2,332.1 298.0,339.6 301.1,339.3 C304.2,339.0 306.2,328.6 310.3,329.6 C314.4,330.6 321.1,345.4 325.5,345.2 C329.9,344.9 331.8,329.5 336.5,328.1 C341.2,326.7 348.1,337.5 353.6,336.9 C359.1,336.3 365.4,325.3 369.4,324.7 C373.4,324.1 375.4,332.0 377.8,333.0 C380.2,334.0 381.7,330.4 383.7,330.6 C385.7,330.8 388.0,335.2 390.0,334.0 C392.0,332.8 393.9,324.6 395.9,323.1 C397.9,321.6 400.2,326.0 401.9,325.1 C403.5,324.2 404.2,318.5 405.8,317.8 C407.4,317.1 409.1,323.7 411.7,320.8 C414.2,317.9 418.6,301.1 421.1,300.5 C423.6,299.9 424.5,314.5 426.5,317.2 C428.5,319.9 431.5,316.2 433.3,316.5 C435.1,316.8 435.7,319.3 437.3,319.2 C438.9,319.1 441.2,315.7 443.2,315.7 C445.2,315.7 447.3,318.9 449.1,319.2 C450.9,319.4 452.8,316.1 454.0,317.2 C455.2,318.2 455.5,325.5 456.6,325.5 C457.8,325.5 458.9,318.6 460.9,317.2 C462.9,315.8 465.8,318.9 468.8,316.9 C471.8,314.9 476.4,305.9 479.0,305.0 C481.6,304.1 483.2,308.9 484.5,311.3 C485.8,313.7 486.1,318.7 486.9,319.2 C487.7,319.7 488.0,312.0 489.4,314.3 C490.8,316.6 493.6,332.0 495.0,333.0 C496.4,334.0 496.4,321.4 498.0,320.2 C499.6,318.9 503.4,327.3 504.8,325.5 C506.2,323.7 504.8,307.8 506.4,309.4 C508.3,311.0 514.1,333.4 516.3,335.0 C518.5,336.6 518.1,322.6 519.6,319.2 C521.1,315.8 523.8,314.1 525.5,314.3 C527.2,314.5 528.7,321.9 530.0,320.2 C531.3,318.5 531.9,305.7 533.4,303.9 C534.9,302.1 537.0,304.5 539.3,309.4 C541.6,314.3 544.8,334.7 547.2,333.4 C549.6,332.1 551.6,305.2 553.7,301.5 C555.8,297.8 557.6,306.7 560.0,311.3 C562.4,315.9 565.3,329.5 567.8,329.4 C570.2,329.2 571.6,310.8 574.7,310.4 C577.8,310.0 582.7,327.1 586.5,327.1 C590.3,327.1 594.7,311.1 597.4,310.4 C600.1,309.7 601.3,323.7 602.9,322.8 C604.5,321.9 606.2,306.1 607.2,305.0 C608.2,303.9 608.3,317.4 609.2,316.3 C610.1,315.2 611.1,300.0 612.7,298.5 C614.3,297.0 616.5,300.5 619.0,307.4 C621.5,314.3 625.4,339.7 627.9,339.9 C630.4,340.1 632.1,313.6 633.8,308.4 C635.5,303.1 636.5,304.9 638.3,308.4 C640.1,311.8 642.4,328.8 644.6,329.1 C646.8,329.4 648.9,312.5 651.5,310.4 C654.1,308.3 658.1,315.2 660.4,316.3 C662.7,317.4 664.2,315.4 665.3,316.7 C666.4,318.0 666.1,324.7 667.2,324.1 C668.4,323.5 670.9,313.2 672.2,312.9 C673.5,312.6 673.6,323.6 675.1,322.2 C676.6,320.8 679.4,303.6 681.0,304.4 C682.6,305.2 683.6,327.6 685.0,327.1 C686.4,326.6 688.3,301.9 689.5,301.5 C690.7,301.1 691.3,323.4 692.4,324.7 C693.5,325.9 694.7,307.3 696.2,309.0 C697.8,310.7 700.1,335.3 701.7,335.0 C703.3,334.7 703.5,308.5 705.6,307.4 C707.7,306.2 711.5,328.2 714.5,328.1 C717.5,328.0 721.1,306.8 723.7,307.0 C726.3,307.2 728.3,324.9 730.2,329.1 C732.1,333.3 733.6,331.9 735.2,332.0 C736.9,332.1 738.6,334.4 740.1,330.0 C741.6,325.6 742.3,304.7 744.0,305.4 C745.7,306.1 747.8,331.8 750.5,334.0 C753.2,336.2 757.4,320.1 760.4,318.8 C763.4,317.5 766.1,325.3 768.6,326.1 C771.1,326.9 772.8,321.7 775.5,323.5 C778.2,325.3 782.4,336.8 785.0,336.9 C787.6,337.0 788.8,327.4 790.9,324.1 C793.0,320.8 796.2,316.2 797.8,317.2 C799.4,318.2 799.4,329.7 800.7,330.0 C802.0,330.3 804.1,320.2 805.7,319.2 C807.3,318.2 808.9,325.2 810.2,324.1 C811.5,323.0 812.0,312.6 813.5,312.3 C815.0,312.0 817.3,321.6 819.4,322.2 C821.5,322.8 823.2,314.8 826.3,315.7 C829.4,316.6 834.3,328.4 838.1,327.5 C841.9,326.6 845.1,310.0 849.0,310.4 C852.9,310.8 857.1,330.2 861.4,330.0 C865.7,329.8 872.0,316.8 874.6,309.4 C876.9,302.0 875.9,285.2 876.9,285.7 C877.9,286.2 878.2,303.3 880.5,312.3 C882.8,321.3 888.1,343.1 890.7,339.9 C893.3,336.7 894.6,297.1 896.2,293.2 C897.8,289.3 898.7,310.0 900.2,316.3 C901.8,322.6 904.0,332.1 905.5,331.0 C907.0,329.9 905.7,309.7 909.0,309.4 C912.3,309.1 920.6,327.8 925.2,329.1 C929.8,330.4 933.9,323.2 936.6,317.2 C939.3,311.2 938.9,293.2 941.5,293.2 C944.1,293.2 950.0,318.8 952.3,317.2 C954.6,315.6 954.1,283.5 955.3,283.4 C956.4,283.2 956.8,306.6 959.2,316.3 C961.7,326.0 967.5,342.3 970.0,341.3 C972.5,340.3 971.9,311.8 974.4,310.4 C976.9,309.0 982.2,332.4 984.8,333.0 C987.3,333.6 986.7,314.0 989.7,314.3 C992.8,314.6 1000.5,336.5 1003.1,335.0 C1005.5,333.5 1004.1,309.0 1005.5,305.4 C1006.9,301.8 1009.8,314.0 1011.4,313.3 C1013.0,312.6 1014.0,300.8 1014.9,301.1 C1015.8,301.4 1016.2,315.9 1016.9,315.3 C1017.6,314.7 1017.5,298.3 1018.9,297.6 C1020.3,296.9 1023.2,312.7 1025.2,310.9 C1027.2,309.1 1029.1,286.2 1030.7,286.7 C1032.3,287.2 1033.2,308.9 1034.6,313.7 C1036.0,318.5 1038.5,313.6 1039.3,315.3 C1039.3,317.0 1039.3,326.8 1039.3,324.1 C1040.5,321.4 1043.5,298.0 1046.4,299.1 C1049.4,300.2 1054.0,328.0 1057.0,331.0 C1060.0,334.0 1061.9,321.2 1064.5,316.9 C1067.1,312.6 1070.7,306.8 1072.4,305.4 C1074.2,304.0 1073.9,305.4 1075.0,308.4 C1076.1,311.3 1077.7,324.2 1078.9,323.1 C1080.2,322.0 1080.8,301.5 1082.5,301.5 C1084.2,301.5 1087.5,323.6 1089.2,323.1 C1090.9,322.6 1090.8,299.5 1092.7,298.5 C1094.6,297.5 1098.0,309.6 1100.6,317.2 C1103.2,324.8 1106.5,342.8 1108.1,343.8 C1109.7,344.8 1108.1,325.1 1110.4,323.1 C1112.8,321.1 1119.4,328.4 1122.2,332.0 C1125.0,335.6 1125.8,346.9 1127.2,344.4 C1128.6,341.9 1128.5,323.5 1130.5,317.2 C1132.5,310.9 1136.4,305.3 1139.0,306.4 C1141.6,307.4 1144.1,323.7 1145.9,323.5 C1147.7,323.3 1148.2,307.0 1149.8,305.0 C1151.4,303.0 1154.5,311.8 1155.7,311.3 C1157.0,310.8 1156.7,299.8 1157.3,301.9 C1157.9,304.0 1157.9,319.6 1159.6,324.1 C1161.3,328.6 1165.5,324.6 1167.5,329.1 C1169.5,333.6 1170.2,353.6 1171.5,351.1 C1172.8,348.6 1174.2,320.0 1175.4,314.3 C1176.6,308.6 1177.9,317.5 1178.9,317.2 C1180.0,316.9 1180.2,308.4 1181.7,312.3 C1183.2,316.2 1185.8,341.7 1187.6,340.9 C1189.4,340.1 1190.5,309.9 1192.7,307.4 C1194.9,304.9 1199.2,325.3 1201.0,326.1 C1202.8,326.9 1202.3,311.8 1203.3,312.3 C1204.3,312.8 1204.9,324.1 1206.9,329.1 C1208.9,334.1 1213.3,343.8 1215.2,342.4 C1217.1,341.0 1216.8,322.2 1218.3,320.8 C1219.8,319.4 1222.4,334.0 1224.2,334.0 C1226.0,334.0 1226.5,321.1 1228.9,320.8 C1231.3,320.5 1236.4,332.6 1238.8,332.0 C1241.2,331.4 1242.0,317.7 1243.3,316.9 C1244.5,316.1 1245.3,326.7 1246.3,327.1 C1247.3,327.6 1248.2,318.6 1249.2,319.6 C1250.2,320.6 1251.0,333.6 1252.6,333.0 C1254.1,332.4 1255.8,316.2 1258.5,316.3 C1261.2,316.4 1266.4,334.0 1268.9,333.4 C1271.5,332.8 1272.2,315.3 1273.8,312.9 C1275.4,310.5 1276.6,319.6 1278.7,319.2 C1280.8,318.8 1284.1,308.9 1286.6,310.4 C1289.1,311.9 1291.4,327.0 1293.5,328.1 C1295.6,329.2 1297.8,316.9 1299.0,317.2 C1300.2,317.5 1299.9,330.6 1301.0,330.0 C1302.1,329.4 1303.5,311.4 1305.7,313.7 C1307.9,316.0 1311.2,343.1 1314.2,343.8 C1317.2,344.5 1321.1,320.6 1323.4,317.6 C1325.7,314.7 1325.4,324.9 1328.0,326.1 C1330.6,327.4 1336.5,324.8 1338.8,325.1 C1341.1,325.4 1340.8,332.8 1341.7,328.1 C1342.6,323.5 1342.7,300.4 1344.3,297.2 C1345.9,294.0 1350.0,308.4 1351.6,309.0 C1353.2,309.6 1353.0,300.6 1354.1,301.1 C1355.2,301.7 1356.8,313.1 1358.1,312.3 C1359.4,311.6 1360.0,293.8 1362.0,296.6 C1364.0,299.4 1368.2,326.1 1369.9,329.1 C1371.6,332.2 1371.4,316.5 1372.2,314.9 C1373.0,313.2 1373.8,317.5 1375.0,319.2 C1376.2,320.9 1378.2,325.8 1379.5,325.1 C1380.8,324.4 1382.0,316.2 1383.1,314.9 C1384.1,313.6 1384.1,318.6 1385.8,317.2 C1387.5,315.8 1391.6,306.1 1393.3,306.4 C1395.0,306.7 1393.6,319.2 1395.7,319.2 C1397.8,319.2 1403.2,307.1 1406.1,306.4 C1409.0,305.7 1411.2,315.6 1413.0,314.9 C1414.8,314.1 1415.4,302.8 1416.9,301.9 C1418.4,301.0 1420.7,311.4 1421.8,309.4 C1422.9,307.4 1423.0,289.0 1423.8,289.7 C1424.6,290.4 1425.4,311.3 1426.4,313.3 C1427.4,315.3 1427.1,296.8 1429.7,301.5 C1432.3,306.2 1439.0,338.8 1442.1,341.3 C1445.1,343.8 1447.0,320.5 1448.0,316.3" fill="none" stroke="#2bd26b" stroke-width="1.2"/>
<rect x="214" y="374" width="1239" height="1" fill="#f6f6f6"/><rect x="213" y="375" width="1240" height="1" fill="#b0b0b0"/>
<g font-size="19.6" fill="#111" stroke="#111" stroke-width="0.35"><text x="248.0" y="403" text-anchor="middle" textLength="18.0" lengthAdjust="spacingAndGlyphs">13</text><text x="316.2" y="403" text-anchor="middle" textLength="18.8" lengthAdjust="spacingAndGlyphs">14</text><text x="377.3" y="403" text-anchor="middle" textLength="18.8" lengthAdjust="spacingAndGlyphs">15</text><text x="440.4" y="403" text-anchor="middle" textLength="18.8" lengthAdjust="spacingAndGlyphs">16</text><text x="504.0" y="403" text-anchor="middle" textLength="18.8" lengthAdjust="spacingAndGlyphs">17</text><text x="574.1" y="403" text-anchor="middle" textLength="19.0" lengthAdjust="spacingAndGlyphs">18</text><text x="641.5" y="403" text-anchor="middle" textLength="19.5" lengthAdjust="spacingAndGlyphs">19</text><text x="705.5" y="403" text-anchor="middle" textLength="24.7" lengthAdjust="spacingAndGlyphs">20</text><text x="769.7" y="403" text-anchor="middle" textLength="18.5" lengthAdjust="spacingAndGlyphs">21</text><text x="836.4" y="403" text-anchor="middle" textLength="23.7" lengthAdjust="spacingAndGlyphs">22</text><text x="901.2" y="403" text-anchor="middle" textLength="24.3" lengthAdjust="spacingAndGlyphs">23</text><text x="968.5" y="403" text-anchor="middle" textLength="24.2" lengthAdjust="spacingAndGlyphs">24</text><text x="1035.2" y="403" text-anchor="middle" textLength="24.0" lengthAdjust="spacingAndGlyphs">25</text><text x="1101.5" y="403" text-anchor="middle" textLength="25.0" lengthAdjust="spacingAndGlyphs">26</text><text x="1171.7" y="403" text-anchor="middle" textLength="22.8" lengthAdjust="spacingAndGlyphs">27</text><text x="1236.3" y="403" text-anchor="middle" textLength="24.3" lengthAdjust="spacingAndGlyphs">28</text><text x="1305.1" y="403" text-anchor="middle" textLength="23.8" lengthAdjust="spacingAndGlyphs">29</text><text x="1377.2" y="403" text-anchor="middle" textLength="24.2" lengthAdjust="spacingAndGlyphs">30</text></g>
<rect x="636" y="464" width="42" height="6" fill="#999"/>
<text x="693" y="472" font-size="19" font-weight="bold" fill="#111" textLength="105" lengthAdjust="spacingAndGlyphs">Total Traffic</text>
<rect x="826" y="464" width="42" height="6" fill="#2bd26b"/>
<text x="881.5" y="472" font-size="19" font-weight="bold" fill="#111" textLength="119" lengthAdjust="spacingAndGlyphs">Origin Traffic</text>
</svg>
</body></html>
